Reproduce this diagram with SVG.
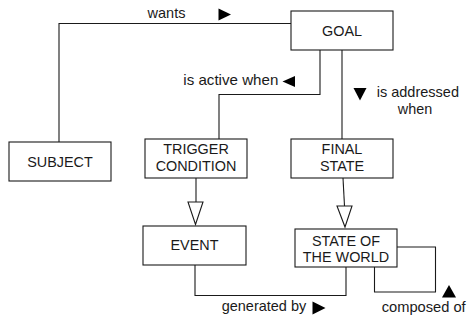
<svg xmlns="http://www.w3.org/2000/svg" width="467" height="322" viewBox="0 0 467 322">
<style>
.box{fill:#fff;stroke:#1a1a1a;stroke-width:1.1}
.ln{fill:none;stroke:#1a1a1a;stroke-width:1.1}
.hol{fill:#fff;stroke:#1a1a1a;stroke-width:1.1}
.tri{fill:#000}
text{font-family:"Liberation Sans",Arial,sans-serif;font-size:14.4px;fill:#1a1a1a}
.c{text-anchor:middle}
</style>
<rect width="467" height="322" fill="#fff"/>
<g id="connectors">
<polyline class="ln" points="59,143 59,23.5 291,23.5"/>
<polyline class="ln" points="320,50 320,94.5 219,94.5 219,139"/>
<line class="ln" x1="342" y1="50" x2="342" y2="139"/>
<line class="ln" x1="196" y1="178" x2="196" y2="202"/>
<polygon class="hol" points="188,202 203,202 195.5,224.5"/>
<line class="ln" x1="343" y1="178" x2="344.5" y2="206"/>
<polygon class="hol" points="337,206 352,206 345,227"/>
<polyline class="ln" points="195,265 195,295.5 346,295.5 346,267"/>
<polyline class="ln" points="397,247 435.5,247 435.5,292 374.5,292 374.5,267"/>
<text x="147.5" y="17.5" textLength="38" lengthAdjust="spacingAndGlyphs">wants</text>
<polygon class="tri" points="218.5,8.5 231,14.5 218.5,20.5"/>
<text x="183.3" y="85" textLength="95" lengthAdjust="spacingAndGlyphs">is active when</text>
<polygon class="tri" points="295,76 282.5,81.5 295,87"/>
<polygon class="tri" points="353.5,88 366.5,88 360,100.5"/>
<text x="376.7" y="97" textLength="82.3" lengthAdjust="spacingAndGlyphs">is addressed</text>
<text x="415" y="113.5" class="c">when</text>
<text x="221.7" y="311" textLength="84.5" lengthAdjust="spacingAndGlyphs">generated by</text>
<polygon class="tri" points="312.5,301.5 325.5,308 312.5,314.5"/>
<polygon class="tri" points="442,297.5 449,285 456,297.5"/>
<text x="381.7" y="311.5" textLength="84" lengthAdjust="spacingAndGlyphs">composed of</text>
</g>
<g id="goal"><rect class="box" x="291" y="11" width="102" height="39"/><text x="342" y="36" class="c">GOAL</text></g>
<g id="subject"><rect class="box" x="9" y="142" width="102" height="39"/><text x="60" y="166.5" class="c">SUBJECT</text></g>
<g id="trigger"><rect class="box" x="145" y="139" width="102" height="39"/><text x="196" y="154.3" class="c">TRIGGER</text><text x="196" y="171" class="c">CONDITION</text></g>
<g id="final"><rect class="box" x="291" y="139" width="102" height="39"/><text x="342" y="154.3" class="c">FINAL</text><text x="342" y="171" class="c">STATE</text></g>
<g id="event"><rect class="box" x="143" y="226" width="103" height="39"/><text x="194.5" y="249.5" class="c">EVENT</text></g>
<g id="world"><rect class="box" x="295" y="229" width="102" height="38"/><text x="346" y="245.7" class="c">STATE OF</text><text x="346" y="262.3" class="c">THE WORLD</text></g>
</svg>
